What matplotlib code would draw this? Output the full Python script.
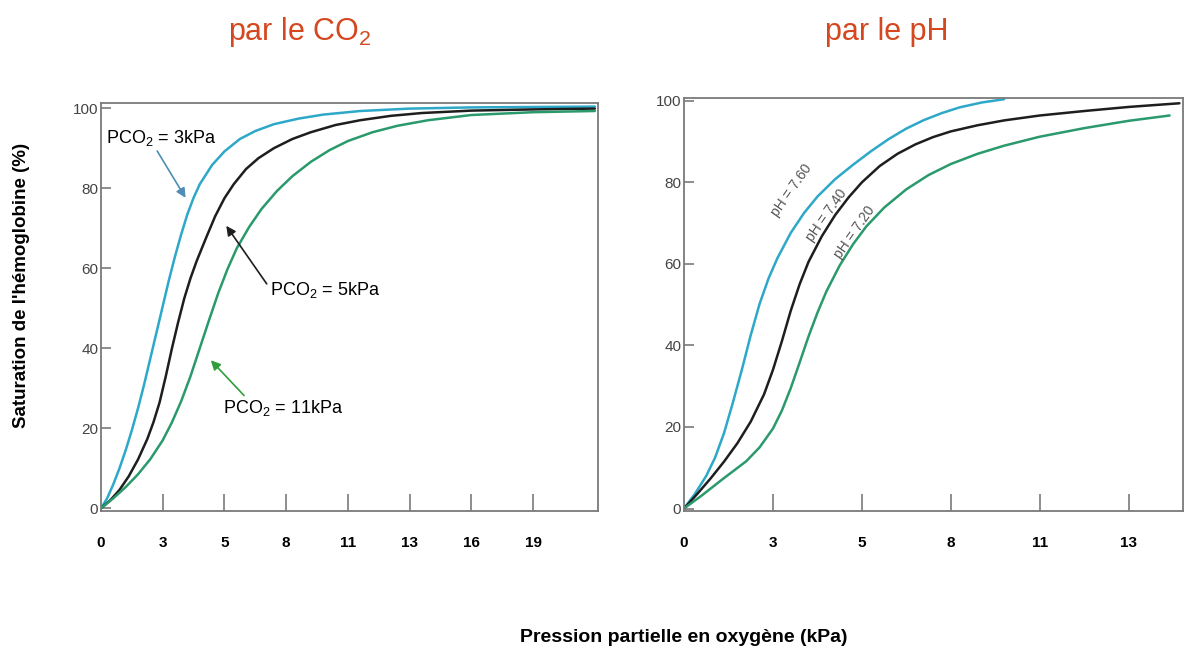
import matplotlib.pyplot as plt

plt.rcParams['font.family'] = ['Liberation Sans', 'DejaVu Sans']
plt.rcParams['mathtext.fontset'] = 'custom'
plt.rcParams['mathtext.rm'] = 'Liberation Sans'
plt.rcParams['mathtext.it'] = 'Liberation Sans:italic'
plt.rcParams['mathtext.bf'] = 'Liberation Sans:bold'

# x values are in tick-slot units: the printed pressure axis is not linear,
# every labelled tick sits one slot further along
co2_ticklabels = ['0', '3', '5', '8', '11', '13', '16', '19']
ph_ticklabels = ['0', '3', '5', '8', '11', '13']
y_ticks = [0, 20, 40, 60, 80, 100]

# left panel: effect of CO2
co2_3_x = [0, 0.1, 0.2, 0.3, 0.4, 0.5, 0.6, 0.7, 0.8, 0.9, 1.0, 1.1, 1.2, 1.3, 1.4,
           1.5, 1.6, 1.8, 2.0, 2.25, 2.5, 2.8, 3.2, 3.6, 4.2, 5.0, 6.0, 8.0]
co2_3_y = [0, 2.5, 6, 10, 14.5, 19.5, 25, 31, 37.5, 44, 50.5, 57, 63, 68.5, 73.5,
           77.6, 81, 85.8, 89.2, 92.3, 94.3, 96, 97.4, 98.4, 99.3, 99.9, 100.2, 100.4]
co2_5_x = [0, 0.15, 0.3, 0.45, 0.6, 0.75, 0.85, 0.95, 1.05, 1.15, 1.25, 1.35, 1.45,
           1.55, 1.7, 1.85, 2.0, 2.15, 2.35, 2.55, 2.8, 3.1, 3.4, 3.8, 4.2, 4.7,
           5.2, 6.0, 7.0, 8.0]
co2_5_y = [0, 2, 4.6, 8, 12.2, 17.3, 21.5, 26.5, 33, 40, 46.5, 52.5, 57.5,
           61.8, 67.5, 73, 77.5, 81, 84.8, 87.5, 90, 92.3, 94, 95.8, 97, 98.1,
           98.8, 99.4, 99.7, 99.9]
co2_11_x = [0, 0.2, 0.4, 0.6, 0.8, 1.0, 1.15, 1.3, 1.45, 1.6, 1.75, 1.9, 2.05,
            2.2, 2.4, 2.6, 2.85, 3.1, 3.4, 3.7, 4.0, 4.4, 4.8, 5.3, 6.0, 7.0, 8.0]
co2_11_y = [0, 2.5, 5.3, 8.5, 12.3, 17, 21.5, 26.8, 33, 40, 47, 53.8, 59.8,
            65, 70.3, 74.8, 79.3, 83, 86.6, 89.5, 91.8, 94, 95.6, 97, 98.3, 99, 99.3]

# right panel: effect of pH
ph_760_x = [0, 0.12, 0.25, 0.35, 0.45, 0.55, 0.65, 0.75, 0.85, 0.95, 1.05, 1.2,
            1.35, 1.5, 1.7, 1.9, 2.1, 2.3, 2.5, 2.7, 2.9, 3.1, 3.35, 3.6]
ph_760_y = [0, 3.5, 8, 12.5, 18.5, 26, 34, 42.5, 50.2, 56.4, 61.4, 67.6,
            72.5, 76.5, 80.8, 84.3, 87.6, 90.6, 93.2, 95.3, 97, 98.4, 99.6, 100.4]
ph_740_x = [0, 0.15, 0.3, 0.45, 0.6, 0.75, 0.9, 1.0, 1.1, 1.2, 1.3, 1.4, 1.55,
            1.7, 1.85, 2.0, 2.2, 2.4, 2.6, 2.8, 3.0, 3.3, 3.6, 4.0, 4.5, 5.0, 5.57]
ph_740_y = [0, 3.6, 7.4, 11.5, 16, 21.3, 28, 34, 41, 48.5, 55, 60.5, 66.8,
            72, 76.3, 80, 84, 87, 89.3, 91.1, 92.5, 94, 95.2, 96.4, 97.5, 98.5, 99.4]
ph_720_x = [0, 0.2, 0.44, 0.7, 0.85, 1.0, 1.1, 1.2, 1.3, 1.4, 1.5, 1.6, 1.75,
            1.9, 2.05, 2.25, 2.5, 2.75, 3.0, 3.3, 3.6, 4.0, 4.5, 5.0, 5.46]
ph_720_y = [0, 3.2, 7.3, 11.6, 15, 19.6, 24, 29.5, 35.8, 42.2, 48, 53.2, 59.6,
            64.8, 69.2, 73.8, 78.3, 81.8, 84.5, 87, 89, 91.2, 93.3, 95.1, 96.4]

CYAN = '#2ea8c8'
BLACK = '#1e1e1e'
GREEN = '#2a9a6c'
TITLE = '#d4471f'
SPINE = '#7a7a7a'


def style_axes(ax, labels, xmax, ytop):
    ax.set_xlim(0, xmax)
    ax.set_ylim(-0.6, ytop)
    for s in ax.spines.values():
        s.set_color(SPINE)
        s.set_linewidth(1.3)
    ax.set_xticks(range(len(labels)))
    ax.set_xticklabels(labels, fontsize=11, fontweight='bold')
    ax.set_yticks(y_ticks)
    ax.set_yticklabels([str(v) for v in y_ticks], fontsize=11, color='#444444')
    ax.tick_params(axis='x', direction='in', length=12, width=1.2, color=SPINE, pad=18)
    ax.tick_params(axis='y', direction='in', length=7, width=1.2, color=SPINE, pad=2)
    ax.xaxis.get_major_ticks()[0].tick1line.set_visible(False)


fig = plt.figure(figsize=(11.85, 6.54), dpi=100)
ax1 = fig.add_axes([0.0852, 0.2191, 0.4194, 0.6234])
ax2 = fig.add_axes([0.5772, 0.2187, 0.4211, 0.6315])

line_kw = dict(lw=1.8, solid_joinstyle='round', solid_capstyle='round')

# left panel
ax1.plot(co2_3_x, co2_3_y, color=CYAN, **line_kw)
ax1.plot(co2_5_x, co2_5_y, color=BLACK, **line_kw)
ax1.plot(co2_11_x, co2_11_y, color=GREEN, **line_kw)
style_axes(ax1, co2_ticklabels, 8.05, 101.3)

ax1.annotate('PCO$_2$ = 3kPa', xy=(1.37, 77.6), xytext=(0.08, 92.5),
             fontsize=13, va='center', ha='left',
             arrowprops=dict(arrowstyle='-|>', color='#4f8db5', lw=1.2,
                             mutation_scale=14, shrinkA=0, shrinkB=0,
                             relpos=(0.45, 0.0)))
ax1.annotate('PCO$_2$ = 5kPa', xy=(2.03, 70.6), xytext=(2.73, 54.6),
             fontsize=13, va='center', ha='left',
             arrowprops=dict(arrowstyle='-|>', color=BLACK, lw=1.2,
                             mutation_scale=14, shrinkA=0, shrinkB=0,
                             relpos=(0.0, 0.6)))
ax1.annotate('PCO$_2$ = 11kPa', xy=(1.78, 37.0), xytext=(1.97, 25.0),
             fontsize=13, va='center', ha='left',
             arrowprops=dict(arrowstyle='-|>', color='#2f9e3a', lw=1.2,
                             mutation_scale=14, shrinkA=0, shrinkB=0,
                             relpos=(0.2, 1.0)))

# right panel
ax2.plot(ph_760_x, ph_760_y, color=CYAN, **line_kw)
ax2.plot(ph_740_x, ph_740_y, color=BLACK, **line_kw)
ax2.plot(ph_720_x, ph_720_y, color=GREEN, **line_kw)
style_axes(ax2, ph_ticklabels, 5.61, 100.7)

for txt, (x, y) in [('pH = 7.60', (1.21, 78.0)),
                    ('pH = 7.40', (1.60, 72.0)),
                    ('pH = 7.20', (1.92, 67.8))]:
    ax2.text(x, y, txt, rotation=55, rotation_mode='anchor', ha='center',
             va='center', fontsize=10, color='#555555')

fig.text(300 / 1185, 1 - 32 / 654, 'par le CO$_2$', color=TITLE, fontsize=22,
         ha='center', va='center')
fig.text(887 / 1185, 1 - 32 / 654, 'par le pH', color=TITLE, fontsize=22,
         ha='center', va='center')

fig.text(22 / 1185, 1 - 285 / 654, "Saturation de l'hémoglobine (%)",
         rotation=90, fontsize=13.5, fontweight='bold', ha='center', va='center')
fig.text(684 / 1185, 1 - 637 / 654, 'Pression partielle en oxygène (kPa)',
         fontsize=14, fontweight='bold', ha='center', va='center')

fig.savefig('out.png', dpi=100)
